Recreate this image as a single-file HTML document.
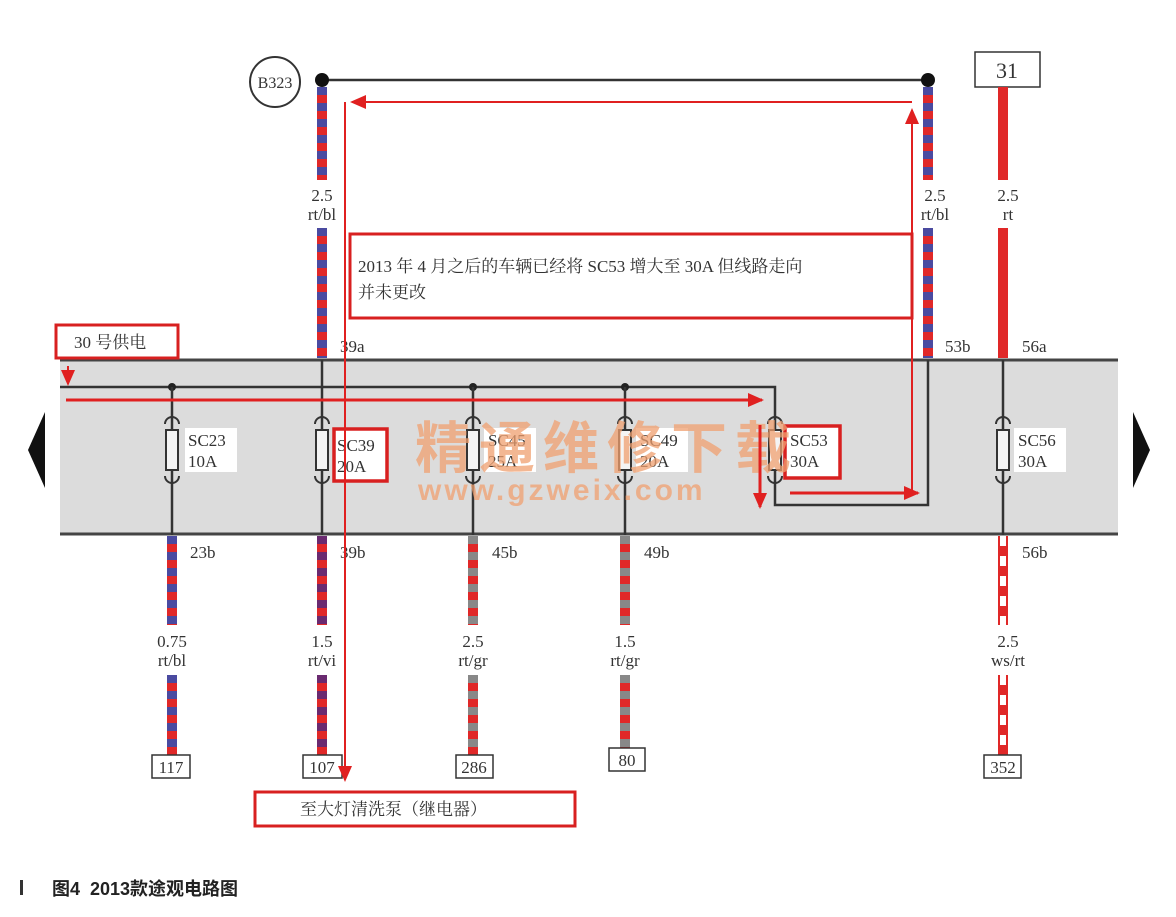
<!DOCTYPE html>
<html><head><meta charset="utf-8"><style>
body{margin:0;background:#fff;}
svg{display:block;font-family:"Liberation Serif","Noto Serif CJK SC",serif;}
</style></head><body>
<svg width="1176" height="917" viewBox="0 0 1176 917" xmlns="http://www.w3.org/2000/svg">
<defs>
<marker id="ar2" markerWidth="16" markerHeight="16" refX="14" refY="8" orient="auto" markerUnits="userSpaceOnUse">
<path d="M0,1 L16,8 L0,15 z" fill="#e02020"/></marker>
</defs>
<rect x="60" y="359" width="1058" height="176" fill="#dcdcdc"/>
<line x1="60" y1="360" x2="1118" y2="360" stroke="#444" stroke-width="3"/>
<line x1="60" y1="534" x2="1118" y2="534" stroke="#444" stroke-width="3"/>
<polygon points="45,412 45,488 28,450" fill="#111"/>
<polygon points="1133,412 1133,488 1150,450" fill="#111"/>
<polyline points="60,387 775,387 775,505 928,505 928,360" fill="none" stroke="#333" stroke-width="2.5"/>
<g fill="#222"><circle cx="172" cy="387" r="4"/><circle cx="473" cy="387" r="4"/><circle cx="625" cy="387" r="4"/></g>
<g stroke="#333" stroke-width="2.5">
<line x1="172" y1="387" x2="172" y2="535"/><line x1="322" y1="360" x2="322" y2="535"/>
<line x1="473" y1="387" x2="473" y2="535"/><line x1="625" y1="387" x2="625" y2="535"/>
<line x1="1003" y1="360" x2="1003" y2="535"/></g>
<g fill="#f4f4f4" stroke="#333" stroke-width="2">
<rect x="166" y="430" width="12" height="40"/><rect x="316" y="430" width="12" height="40"/>
<rect x="467" y="430" width="12" height="40"/><rect x="619" y="430" width="12" height="40"/>
<rect x="769" y="430" width="12" height="40"/><rect x="997" y="430" width="12" height="40"/></g>
<g fill="none" stroke="#333" stroke-width="2">
<path d="M165,424 a7,7 0 0 1 14,0 M165,476 a7,7 0 0 0 14,0"/>
<path d="M315,424 a7,7 0 0 1 14,0 M315,476 a7,7 0 0 0 14,0"/>
<path d="M466,424 a7,7 0 0 1 14,0 M466,476 a7,7 0 0 0 14,0"/>
<path d="M618,424 a7,7 0 0 1 14,0 M618,476 a7,7 0 0 0 14,0"/>
<path d="M768,424 a7,7 0 0 1 14,0 M768,476 a7,7 0 0 0 14,0"/>
<path d="M996,424 a7,7 0 0 1 14,0 M996,476 a7,7 0 0 0 14,0"/></g>
<g fill="#fff"><rect x="185" y="428" width="52" height="44"/><rect x="484" y="428" width="52" height="44"/><rect x="636" y="428" width="52" height="44"/><rect x="1014" y="428" width="52" height="44"/></g>
<rect x="334" y="429" width="53" height="52" fill="#fff" stroke="#d82020" stroke-width="3.5"/>
<rect x="785" y="426" width="55" height="52" fill="#fff" stroke="#d82020" stroke-width="3.5"/>
<g font-size="17" fill="#333">
<text x="188" y="446">SC23</text><text x="188" y="467">10A</text>
<text x="337" y="451">SC39</text><text x="337" y="472">20A</text>
<text x="488" y="446">SC45</text><text x="488" y="467">25A</text>
<text x="640" y="446">SC49</text><text x="640" y="467">20A</text>
<text x="790" y="446">SC53</text><text x="790" y="467">30A</text>
<text x="1018" y="446">SC56</text><text x="1018" y="467">30A</text></g>
<text x="415" y="468" font-size="56" font-weight="bold" fill="#f0a070" opacity="0.75" font-family="'Noto Sans CJK SC',sans-serif" letter-spacing="8">精通维修下载</text>
<text x="418" y="500" font-size="30" font-weight="bold" fill="#f0a070" opacity="0.75" font-family="'Liberation Sans',sans-serif" letter-spacing="3">www.gzweix.com</text>
<circle cx="275" cy="82" r="25" fill="#fff" stroke="#333" stroke-width="2"/>
<text x="275" y="88" font-size="16" text-anchor="middle" fill="#333">B323</text>
<line x1="322" y1="80" x2="928" y2="80" stroke="#333" stroke-width="2.5"/>
<circle cx="322" cy="80" r="7" fill="#111"/><circle cx="928" cy="80" r="7" fill="#111"/>
<rect x="975" y="52" width="65" height="35" fill="#fff" stroke="#333" stroke-width="1.5"/>
<text x="1007" y="78" font-size="22" text-anchor="middle" fill="#333">31</text>
<g stroke-width="10">
<line x1="322" y1="87" x2="322" y2="180" stroke="#e02828"/><line x1="322" y1="87" x2="322" y2="180" stroke="#4a4aa0" stroke-dasharray="8,8"/>
<line x1="322" y1="228" x2="322" y2="358" stroke="#e02828"/><line x1="322" y1="228" x2="322" y2="358" stroke="#4a4aa0" stroke-dasharray="8,8"/>
<line x1="928" y1="87" x2="928" y2="180" stroke="#e02828"/><line x1="928" y1="87" x2="928" y2="180" stroke="#4a4aa0" stroke-dasharray="8,8"/>
<line x1="928" y1="228" x2="928" y2="358" stroke="#e02828"/><line x1="928" y1="228" x2="928" y2="358" stroke="#4a4aa0" stroke-dasharray="8,8"/>
<line x1="1003" y1="87" x2="1003" y2="180" stroke="#e02828"/><line x1="1003" y1="228" x2="1003" y2="358" stroke="#e02828"/>
<line x1="172" y1="536" x2="172" y2="625" stroke="#e02828"/><line x1="172" y1="536" x2="172" y2="625" stroke="#4a4aa0" stroke-dasharray="8,8"/>
<line x1="172" y1="675" x2="172" y2="755" stroke="#e02828"/><line x1="172" y1="675" x2="172" y2="755" stroke="#4a4aa0" stroke-dasharray="8,8"/>
<line x1="322" y1="536" x2="322" y2="625" stroke="#e02828"/><line x1="322" y1="536" x2="322" y2="625" stroke="#6a2a70" stroke-dasharray="8,8"/>
<line x1="322" y1="675" x2="322" y2="755" stroke="#e02828"/><line x1="322" y1="675" x2="322" y2="755" stroke="#6a2a70" stroke-dasharray="8,8"/>
<line x1="473" y1="536" x2="473" y2="625" stroke="#e02828"/><line x1="473" y1="536" x2="473" y2="625" stroke="#888" stroke-dasharray="8,8"/>
<line x1="473" y1="675" x2="473" y2="755" stroke="#e02828"/><line x1="473" y1="675" x2="473" y2="755" stroke="#888" stroke-dasharray="8,8"/>
<line x1="625" y1="536" x2="625" y2="625" stroke="#e02828"/><line x1="625" y1="536" x2="625" y2="625" stroke="#888" stroke-dasharray="8,8"/>
<line x1="625" y1="675" x2="625" y2="748" stroke="#e02828"/><line x1="625" y1="675" x2="625" y2="748" stroke="#888" stroke-dasharray="8,8"/>
<line x1="1003" y1="536" x2="1003" y2="625" stroke="#e02828"/><line x1="1003" y1="536" x2="1003" y2="625" stroke="#fff" stroke-dasharray="10,10" stroke-width="6"/>
<line x1="1003" y1="675" x2="1003" y2="755" stroke="#e02828"/><line x1="1003" y1="675" x2="1003" y2="755" stroke="#fff" stroke-dasharray="10,10" stroke-width="6"/>
</g>
<g font-size="17" fill="#333" text-anchor="middle">
<text x="322" y="201">2.5</text><text x="322" y="220">rt/bl</text>
<text x="935" y="201">2.5</text><text x="935" y="220">rt/bl</text>
<text x="1008" y="201">2.5</text><text x="1008" y="220">rt</text>
<text x="172" y="647">0.75</text><text x="172" y="666">rt/bl</text>
<text x="322" y="647">1.5</text><text x="322" y="666">rt/vi</text>
<text x="473" y="647">2.5</text><text x="473" y="666">rt/gr</text>
<text x="625" y="647">1.5</text><text x="625" y="666">rt/gr</text>
<text x="1008" y="647">2.5</text><text x="1008" y="666">ws/rt</text></g>
<g font-size="17" fill="#333">
<text x="340" y="352">39a</text><text x="945" y="352">53b</text><text x="1022" y="352">56a</text>
<text x="190" y="558">23b</text><text x="340" y="558">39b</text><text x="492" y="558">45b</text><text x="644" y="558">49b</text><text x="1022" y="558">56b</text></g>
<g fill="#fff" stroke="#333" stroke-width="1.5">
<rect x="152" y="755" width="38" height="23"/><rect x="303" y="755" width="39" height="23"/>
<rect x="456" y="755" width="37" height="23"/><rect x="609" y="748" width="36" height="23"/>
<rect x="984" y="755" width="37" height="23"/></g>
<g font-size="17" fill="#333" text-anchor="middle">
<text x="171" y="773">117</text><text x="322" y="773">107</text><text x="474" y="773">286</text><text x="627" y="766">80</text><text x="1003" y="773">352</text></g>
<g stroke="#e02020" stroke-width="2" fill="none">
<line x1="912" y1="102" x2="352" y2="102" marker-end="url(#ar2)"/>
<line x1="345" y1="102" x2="345" y2="780" marker-end="url(#ar2)"/>
<line x1="912" y1="495" x2="912" y2="110" marker-end="url(#ar2)"/>
<line x1="66" y1="400" x2="762" y2="400" stroke-width="3" marker-end="url(#ar2)"/>
<line x1="760" y1="425" x2="760" y2="507" stroke-width="3" marker-end="url(#ar2)"/>
<line x1="790" y1="493" x2="918" y2="493" stroke-width="3" marker-end="url(#ar2)"/>
<line x1="68" y1="366" x2="68" y2="384" stroke-width="2" marker-end="url(#ar2)"/>
</g>
<rect x="350" y="234" width="562" height="84" fill="#fff" stroke="#d82020" stroke-width="3"/>
<text x="358" y="272" font-size="17" fill="#333">2013 年 4 月之后的车辆已经将 SC53 增大至 30A 但线路走向</text>
<text x="358" y="298" font-size="17" fill="#333">并未更改</text>
<rect x="56" y="325" width="122" height="33" fill="#fff" stroke="#d82020" stroke-width="3"/>
<text x="74" y="348" font-size="17" fill="#333">30 号供电</text>
<rect x="255" y="792" width="320" height="34" fill="#fff" stroke="#d82020" stroke-width="3"/>
<text x="300" y="815" font-size="17" fill="#333">至大灯清洗泵（继电器）</text>
<rect x="20" y="880" width="3" height="15" fill="#333"/>
<text x="52" y="895" font-size="18" font-weight="bold" fill="#222" font-family="'Liberation Sans','Noto Sans CJK SC',sans-serif" xml:space="preserve">图4  2013款途观电路图</text>
</svg>
</body></html>
